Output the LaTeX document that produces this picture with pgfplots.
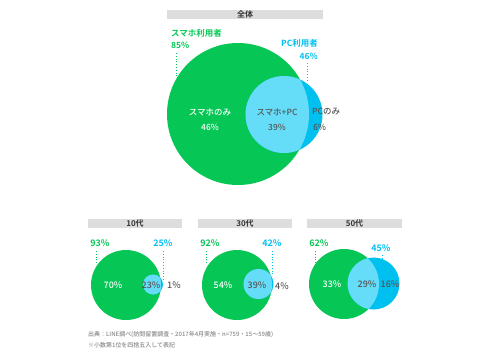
\documentclass[border=0pt]{standalone}
\usepackage{fontspec}
\setmainfont{Noto Sans CJK JP}[UprightFont=* Medium,BoldFont=* Bold]
\usepackage{pgfplots}
\pgfplotsset{compat=1.18}
\definecolor{lgreen}{HTML}{06C755}
\definecolor{lcyan}{HTML}{00C0EF}
\definecolor{llens}{HTML}{66DDF8}
\definecolor{dgray}{HTML}{555555}
\definecolor{tgray}{HTML}{333333}
\definecolor{bargray}{HTML}{DDDDDD}
\definecolor{fgray}{HTML}{888888}
\newcommand{\venn}[6]{% gx gy gr bx by br
  \fill[lgreen] (axis cs:#1,#2) circle[radius=#3bp];
  \fill[lcyan] (axis cs:#4,#5) circle[radius=#6bp];
  \begin{scope}
    \clip (axis cs:#1,#2) circle[radius=#3bp];
    \fill[llens] (axis cs:#4,#5) circle[radius=#6bp];
  \end{scope}}
\tikzset{
  ttl/.style={font=\fontsize{8}{9}\selectfont\bfseries,text=tgray},
  lab/.style={font=\fontsize{8.5}{9}\selectfont},
  top/.style={font=\fontsize{8.5}{9}\selectfont\bfseries,inner xsep=0pt},
  sml/.style={font=\fontsize{9}{10}\selectfont},
  smt/.style={font=\fontsize{9}{10}\selectfont\bfseries},
  dl/.style={dotted,line width=0.8pt}}
\begin{document}
\begin{tikzpicture}
\begin{axis}[x=1bp,y=1bp,xmin=0,xmax=480,ymin=0,ymax=354,y dir=reverse,
  hide axis,scale only axis,clip=false]
\path (rel axis cs:0,0) rectangle (rel axis cs:1,1);
% panel bars
\fill[bargray] (axis cs:167,10) rectangle (axis cs:323,19);
\node[ttl] at (axis cs:245,14.5) {全体};
\fill[bargray] (axis cs:88,219) rectangle (axis cs:182,228);
\node[ttl] at (axis cs:135,223.5) {10代};
\fill[bargray] (axis cs:198,219) rectangle (axis cs:292,228);
\node[ttl] at (axis cs:245,223.5) {30代};
\fill[bargray] (axis cs:307,219) rectangle (axis cs:402,228);
\node[ttl] at (axis cs:354.5,223.5) {50代};
% main venn
\venn{238}{114}{71}{284}{114.5}{38.5}
\node[lab,text=white] at (axis cs:210,112) {スマホのみ};
\node[lab,text=white] at (axis cs:210,127) {46\%};
\node[lab,text=dgray] at (axis cs:277,112) {スマホ+PC};
\node[lab,text=dgray] at (axis cs:277,127) {39\%};
\node[lab,text=dgray,anchor=west,inner xsep=0pt] at (axis cs:312,112) {PCのみ};
\node[lab,text=dgray,anchor=west,inner xsep=0pt] at (axis cs:313,127) {6\%};
\node[top,text=lgreen,anchor=west] at (axis cs:171,33) {スマホ利用者};
\node[top,text=lgreen,anchor=west] at (axis cs:171,45) {85\%};
\draw[lgreen,dl] (axis cs:176,53) -- (axis cs:176,77);
\node[top,text=lcyan,anchor=east] at (axis cs:318,43) {PC利用者};
\node[top,text=lcyan,anchor=east] at (axis cs:318,56) {46\%};
\draw[lcyan,dl] (axis cs:307,63) -- (axis cs:307,80);
% 10s
\venn{126}{285}{35}{153}{284.5}{10}
\node[sml,text=white] at (axis cs:113,285) {70\%};
\node[sml,text=dgray] at (axis cs:151,285) {23\%};
\node[sml,text=dgray] at (axis cs:174,285) {1\%};
\node[smt,text=lgreen] at (axis cs:100,243) {93\%};
\draw[lgreen,dl] (axis cs:96,251) -- (axis cs:96,263);
\node[smt,text=lcyan] at (axis cs:163,243) {25\%};
\draw[lcyan,dl] (axis cs:163,251) -- (axis cs:163,279);
% 30s
\venn{237}{285}{35}{258.5}{284}{15}
\node[sml,text=white] at (axis cs:223,285) {54\%};
\node[sml,text=dgray] at (axis cs:257,285) {39\%};
\node[sml,text=dgray] at (axis cs:282,286) {4\%};
\node[smt,text=lgreen] at (axis cs:210,243) {92\%};
\draw[lgreen,dl] (axis cs:206,251) -- (axis cs:206,263);
\node[smt,text=lcyan] at (axis cs:272,243) {42\%};
\draw[lcyan,dl] (axis cs:272,251) -- (axis cs:272,274);
% 50s
\venn{344}{284}{35}{373.5}{283.5}{26}
\node[sml,text=white] at (axis cs:332,284) {33\%};
\node[sml,text=dgray] at (axis cs:367,284) {29\%};
\node[sml,text=dgray] at (axis cs:390,284) {16\%};
\node[smt,text=lgreen] at (axis cs:319,243) {62\%};
\draw[lgreen,dl] (axis cs:315,251) -- (axis cs:315,263);
\node[smt,text=lcyan] at (axis cs:381,248) {45\%};
\draw[lcyan,dl] (axis cs:382,255) -- (axis cs:382,258);
% footnotes
\node[font=\fontsize{6}{7}\selectfont,text=fgray,anchor=west,inner xsep=0pt] at (axis cs:88,335) {出典：LINE調べ(訪問留置調査・2017年4月実施・n=759・15～59歳)};
\node[font=\fontsize{6}{7}\selectfont,text=fgray,anchor=west,inner xsep=0pt] at (axis cs:88,345) {※小数第1位を四捨五入して表記};
\end{axis}
\end{tikzpicture}
\end{document}
